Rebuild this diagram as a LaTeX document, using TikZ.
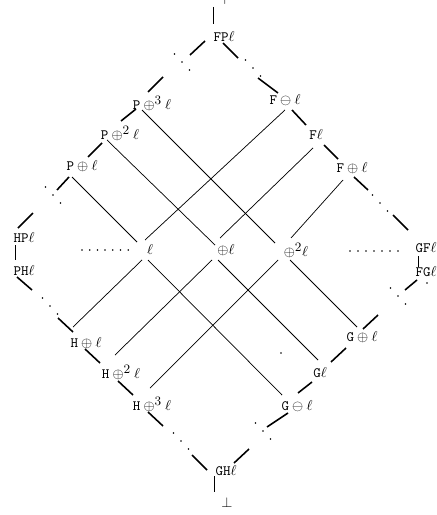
\documentclass[tikz,border=0pt]{standalone}
\usetikzlibrary{calc}
\newcommand{\bsup}[1]{^{\mbox{\small #1}}}
\begin{document}
\begin{tikzpicture}[x=0.7pt,y=-0.7pt,
  lab/.style={inner sep=0pt},
  outer/.style={line width=1.1pt},
  inner/.style={line width=0.5pt},
  vert/.style={line width=0.6pt},
  dot/.style={fill=black}]
\useasboundingbox (0,0) rectangle (436,515);
% labels
\node[lab] (top) at (225,0) {$\top$};
\node[lab] (FP) at (224,37) {$\mathtt{FP}\ell$};
\node[lab] (P3) at (152,103) {$\mathtt{P}\oplus\bsup{3}\ell$};
\node[lab] (P2) at (120,133) {$\mathtt{P}\oplus\bsup{2}\ell$};
\node[lab] (P1) at (82,166) {$\mathtt{P}\oplus\ell$};
\node[lab] (Fm) at (285,100) {$\mathtt{F}\ominus\ell$};
\node[lab] (F) at (316,135) {$\mathtt{F}\ell$};
\node[lab] (Fp) at (352,168) {$\mathtt{F}\oplus\ell$};
\node[lab] (HP) at (24,238) {$\mathtt{HP}\ell$};
\node[lab] (PH) at (24,271) {$\mathtt{PH}\ell$};
\node[lab] (GF) at (426,248) {$\mathtt{GF}\ell$};
\node[lab] (FG) at (426,272) {$\mathtt{FG}\ell$};
\node[lab] (L) at (150,250) {$\ell$};
\node[lab] (O1) at (226,250) {$\oplus\ell$};
\node[lab] (O2) at (296,250) {$\oplus\bsup{2}\ell$};
\node[lab] (H1) at (86,343) {$\mathtt{H}\oplus\ell$};
\node[lab] (H2) at (121,372) {$\mathtt{H}\oplus\bsup{2}\ell$};
\node[lab] (H3) at (152,404) {$\mathtt{H}\oplus\bsup{3}\ell$};
\node[lab] (G) at (320,373) {$\mathtt{G}\ell$};
\node[lab] (Gm) at (297,406) {$\mathtt{G}\ominus\ell$};
\node[lab] (Gp) at (362,337) {$\mathtt{G}\oplus\ell$};
\node[lab] (GH) at (226,471) {$\mathtt{GH}\ell$};
\node[lab] (bot) at (227,503) {$\bot$};
% dot groups
\coordinate (dTL) at (182,62);
\coordinate (dTR) at (253,68);
\coordinate (dL1) at (53,195);
\coordinate (dL2) at (50,306);
\coordinate (dBL) at (181,441);
\coordinate (dBR) at (263,431);
\coordinate (dR1) at (380,203);
\coordinate (dR2) at (398,296);
\foreach \c in {dTL,dTR,dL1,dL2,dBL,dBR,dR1,dR2}{
  \fill[dot] ($(\c)+(-7.5,-8)$) circle[radius=0.6pt];
  \fill[dot] (\c) circle[radius=0.6pt];
  \fill[dot] ($(\c)+(7.5,8)$) circle[radius=0.6pt];
}
\foreach \i in {0,...,6}{
  \fill[dot] ($(L)+(-68+7.7*\i,0)$) circle[radius=0.6pt];
  \fill[dot] ($(O2)+(54+8*\i,1)$) circle[radius=0.6pt];
}
\fill[dot] ($(FG)+(1,11)$) circle[radius=0.6pt];
\fill[dot] ($(G)+(-39,-20)$) circle[radius=0.6pt];
% outer segments
\draw[vert] ($(top)+(-12,7)$) -- ($(FP)+(-11,-13)$);
\draw[outer] ($(FP)+(-19,4)$) -- ($(dTL)+(8,-7)$);
\draw[outer] ($(dTL)+(-19,15)$) -- ($(P3)+(-4,-11)$);
\draw[outer] ($(P3)+(-16,6)$) -- ($(P2)+(1,-12)$);
\draw[outer] ($(P2)+(-18,10)$) -- ($(P1)+(6,-9)$);
\draw[outer] ($(P1)+(-13,11)$) -- ($(dL1)+(4,-5)$);
\draw[outer] ($(dL1)+(-20,18)$) -- ($(HP)+(-6,-10)$);
\draw[vert] ($(HP)+(-9,7)$) -- ($(PH)+(-9,-11)$);
\draw[outer] ($(PH)+(-7,6)$) -- ($(dL2)+(-18,-16)$);
\draw[outer] ($(dL2)+(8,12)$) -- ($(H1)+(-13,-11)$);
\draw[outer] ($(H1)+(-1,6)$) -- ($(H2)+(-21,-9)$);
\draw[outer] ($(H2)+(-3,9)$) -- ($(H3)+(-19,-9)$);
\draw[outer] ($(H3)+(-4,8)$) -- ($(dBL)+(-18,-15)$);
\draw[outer] ($(dBL)+(11,14)$) -- ($(GH)+(-19,-1)$);
\draw[vert] ($(GH)+(-12,5)$) -- ($(bot)+(-13,-11)$);
\draw[outer] ($(GH)+(8,-8)$) -- ($(dBR)+(-14,18)$);
\draw[outer] ($(dBR)+(4,-4)$) -- ($(Gm)+(-9,7)$);
\draw[outer] ($(Gm)+(1,-13)$) -- ($(G)+(-8,9)$);
\draw[outer] ($(G)+(11,-11)$) -- ($(Gp)+(-16,11)$);
\draw[outer] ($(Gp)+(1,-8)$) -- ($(dR2)+(-20,19)$);
\draw[outer] ($(dR2)+(7,-6)$) -- ($(FG)+(-9,8)$);
\draw[vert] ($(GF)+(-8,8)$) -- ($(FG)+(-8,-5)$);
\draw[outer] ($(GF)+(-18,-18)$) -- ($(dR1)+(13,12)$);
\draw[outer] ($(dR1)+(-12,-13)$) -- ($(Fp)+(2,9)$);
\draw[outer] ($(Fp)+(-14,-9)$) -- ($(F)+(8,10)$);
\draw[outer] ($(F)+(-10,-10)$) -- ($(Fm)+(7,10)$);
\draw[outer] ($(Fm)+(-7,-7)$) -- ($(dTR)+(5,10)$);
\draw[outer] ($(dTR)+(-15,-10)$) -- ($(FP)+(-1,6)$);
% inner lines
\draw[inner] ($(P3)+(-10,7)$) -- ($(O2)+(-21,-7)$);
\draw[inner] ($(P2)+(-13,7)$) -- ($(O1)+(-11,-5)$);
\draw[inner] ($(P1)+(-10,11)$) -- ($(L)+(-13,-8)$);
\draw[inner] ($(Fm)+(0,10)$) -- ($(L)+(-5,-10)$);
\draw[inner] ($(F)+(-3,13)$) -- ($(O1)+(-6,-12)$);
\draw[inner] ($(Fp)+(-9,12)$) -- ($(O2)+(-5,-12)$);
\draw[inner] ($(L)+(-8,10)$) -- ($(H1)+(-13,-16)$);
\draw[inner] ($(O1)+(-14,10)$) -- ($(H2)+(-6,-17)$);
\draw[inner] ($(O2)+(-18,10)$) -- ($(H3)+(-2,-16)$);
\draw[inner] ($(L)+(-2,10)$) -- ($(Gm)+(-15,-11)$);
\draw[inner] ($(O1)+(-8,10)$) -- ($(G)+(-2,-13)$);
\draw[inner] ($(O2)+(-6,10)$) -- ($(Gp)+(-5,-10)$);
\end{tikzpicture}
\end{document}
